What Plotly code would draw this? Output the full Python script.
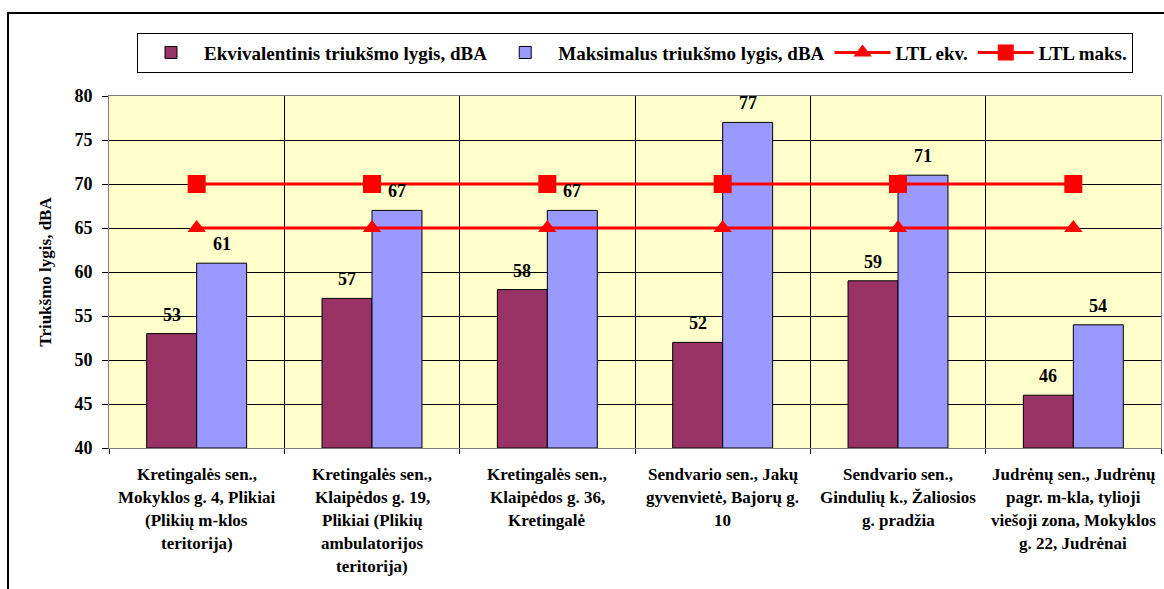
import plotly.graph_objects as go

categories = [
    "Kretingalės sen.,\nMokyklos g. 4, Plikiai\n(Plikių m-klos\nteritorija)",
    "Kretingalės sen.,\nKlaipėdos g. 19,\nPlikiai (Plikių\nambulatorijos\nteritorija)",
    "Kretingalės sen.,\nKlaipėdos g. 36,\nKretingalė",
    "Sendvario sen., Jakų\ngyvenvietė, Bajorų g.\n10",
    "Sendvario sen.,\nGindulių k., Žaliosios\ng. pradžia",
    "Judrėnų sen., Judrėnų\npagr. m-kla, tylioji\nviešoji zona, Mokyklos\ng. 22, Judrėnai",
]
ekv = [53, 57, 58, 52, 59, 46]
maks = [61, 67, 67, 77, 71, 54]
ltl_ekv = [65, 65, 65, 65, 65, 65]
ltl_maks = [70, 70, 70, 70, 70, 70]

series_names = [
    "Ekvivalentinis triukšmo lygis, dBA",
    "Maksimalus triukšmo lygis, dBA",
    "LTL ekv.",
    "LTL maks.",
]
y_title = "Triukšmo lygis, dBA"

xkeys = [c.replace("\n", " ") for c in categories]
FONT = "Liberation Serif, Times New Roman, serif"

fig = go.Figure()
fig.add_trace(go.Bar(x=xkeys, y=[v - 40 for v in ekv], base=40, name=series_names[0],
                     marker=dict(color="#993366", line=dict(color="black", width=1))))
fig.add_trace(go.Bar(x=xkeys, y=[v - 40 for v in maks], base=40, name=series_names[1],
                     marker=dict(color="#9999FF", line=dict(color="black", width=1))))
fig.add_trace(go.Scatter(x=xkeys, y=ltl_ekv, name=series_names[2], mode="lines+markers",
                         line=dict(color="#FF0000", width=3),
                         marker=dict(symbol="triangle-up", size=16, color="#FF0000")))
fig.add_trace(go.Scatter(x=xkeys, y=ltl_maks, name=series_names[3], mode="lines+markers",
                         line=dict(color="#FF0000", width=3),
                         marker=dict(symbol="square", size=18, color="#FF0000")))

annotations = []
for k, v in zip(xkeys, ekv):
    annotations.append(dict(x=k, y=v, xref="x", yref="y", text=str(v), showarrow=False,
                            xshift=-25, yshift=19, font=dict(size=18, family=FONT, weight="bold", color="black")))
for k, v in zip(xkeys, maks):
    annotations.append(dict(x=k, y=v, xref="x", yref="y", text=str(v), showarrow=False,
                            xshift=25, yshift=19, font=dict(size=18, family=FONT, weight="bold", color="black")))
for k, c in zip(xkeys, categories):
    for i, line in enumerate(c.split("\n")):
        annotations.append(dict(x=k, y=0, xref="x", yref="paper", text=line, showarrow=False,
                                yanchor="middle", yshift=-(26 + 23 * i),
                                font=dict(size=17, family=FONT, weight="bold", color="black")))

fig.update_layout(
    width=1164, height=589,
    margin=dict(l=109, r=3, t=96, b=141, autoexpand=False),
    paper_bgcolor="white", plot_bgcolor="#FFFFCC",
    font=dict(family=FONT, color="black", size=16, weight="bold"),
    barmode="group", bargap=0.43, bargroupgap=0,
    showlegend=True,
    legend=dict(orientation="h", x=0.5, xanchor="center", y=1.18, yanchor="top",
                bordercolor="black", borderwidth=1, bgcolor="white", itemwidth=56,
                font=dict(size=19, family=FONT, weight="bold"), traceorder="normal"),
    annotations=annotations,
    shapes=[dict(type="rect", xref="paper", yref="paper",
                 x0=(8 - 109) / 1052, x1=(1175 - 109) / 1052,
                 y0=(448 - 600) / 352, y1=(448 - 13) / 352,
                 line=dict(color="black", width=2), fillcolor="rgba(0,0,0,0)", layer="below")],
)
fig.update_xaxes(type="category", tickson="boundaries", showticklabels=False,
                 ticks="outside", ticklen=5, tickcolor="black",
                 showgrid=True, gridcolor="black", gridwidth=1,
                 showline=True, linecolor="#808080", linewidth=1, mirror=True)
fig.update_yaxes(range=[40, 80], dtick=5, tick0=40, ticks="outside", ticklen=6, tickcolor="black",
                 showgrid=True, gridcolor="black", gridwidth=1,
                 showline=True, linecolor="#808080", linewidth=1, mirror=True,
                 ticklabelstandoff=6,
                 tickfont=dict(size=18, family=FONT, weight="bold"),
                 title=dict(text=y_title, font=dict(size=17, family=FONT, weight="bold"), standoff=18))

fig.write_html("out.html", config={"displayModeBar": False},
               post_script="document.body.style.margin='0';document.body.style.overflow='hidden';")
